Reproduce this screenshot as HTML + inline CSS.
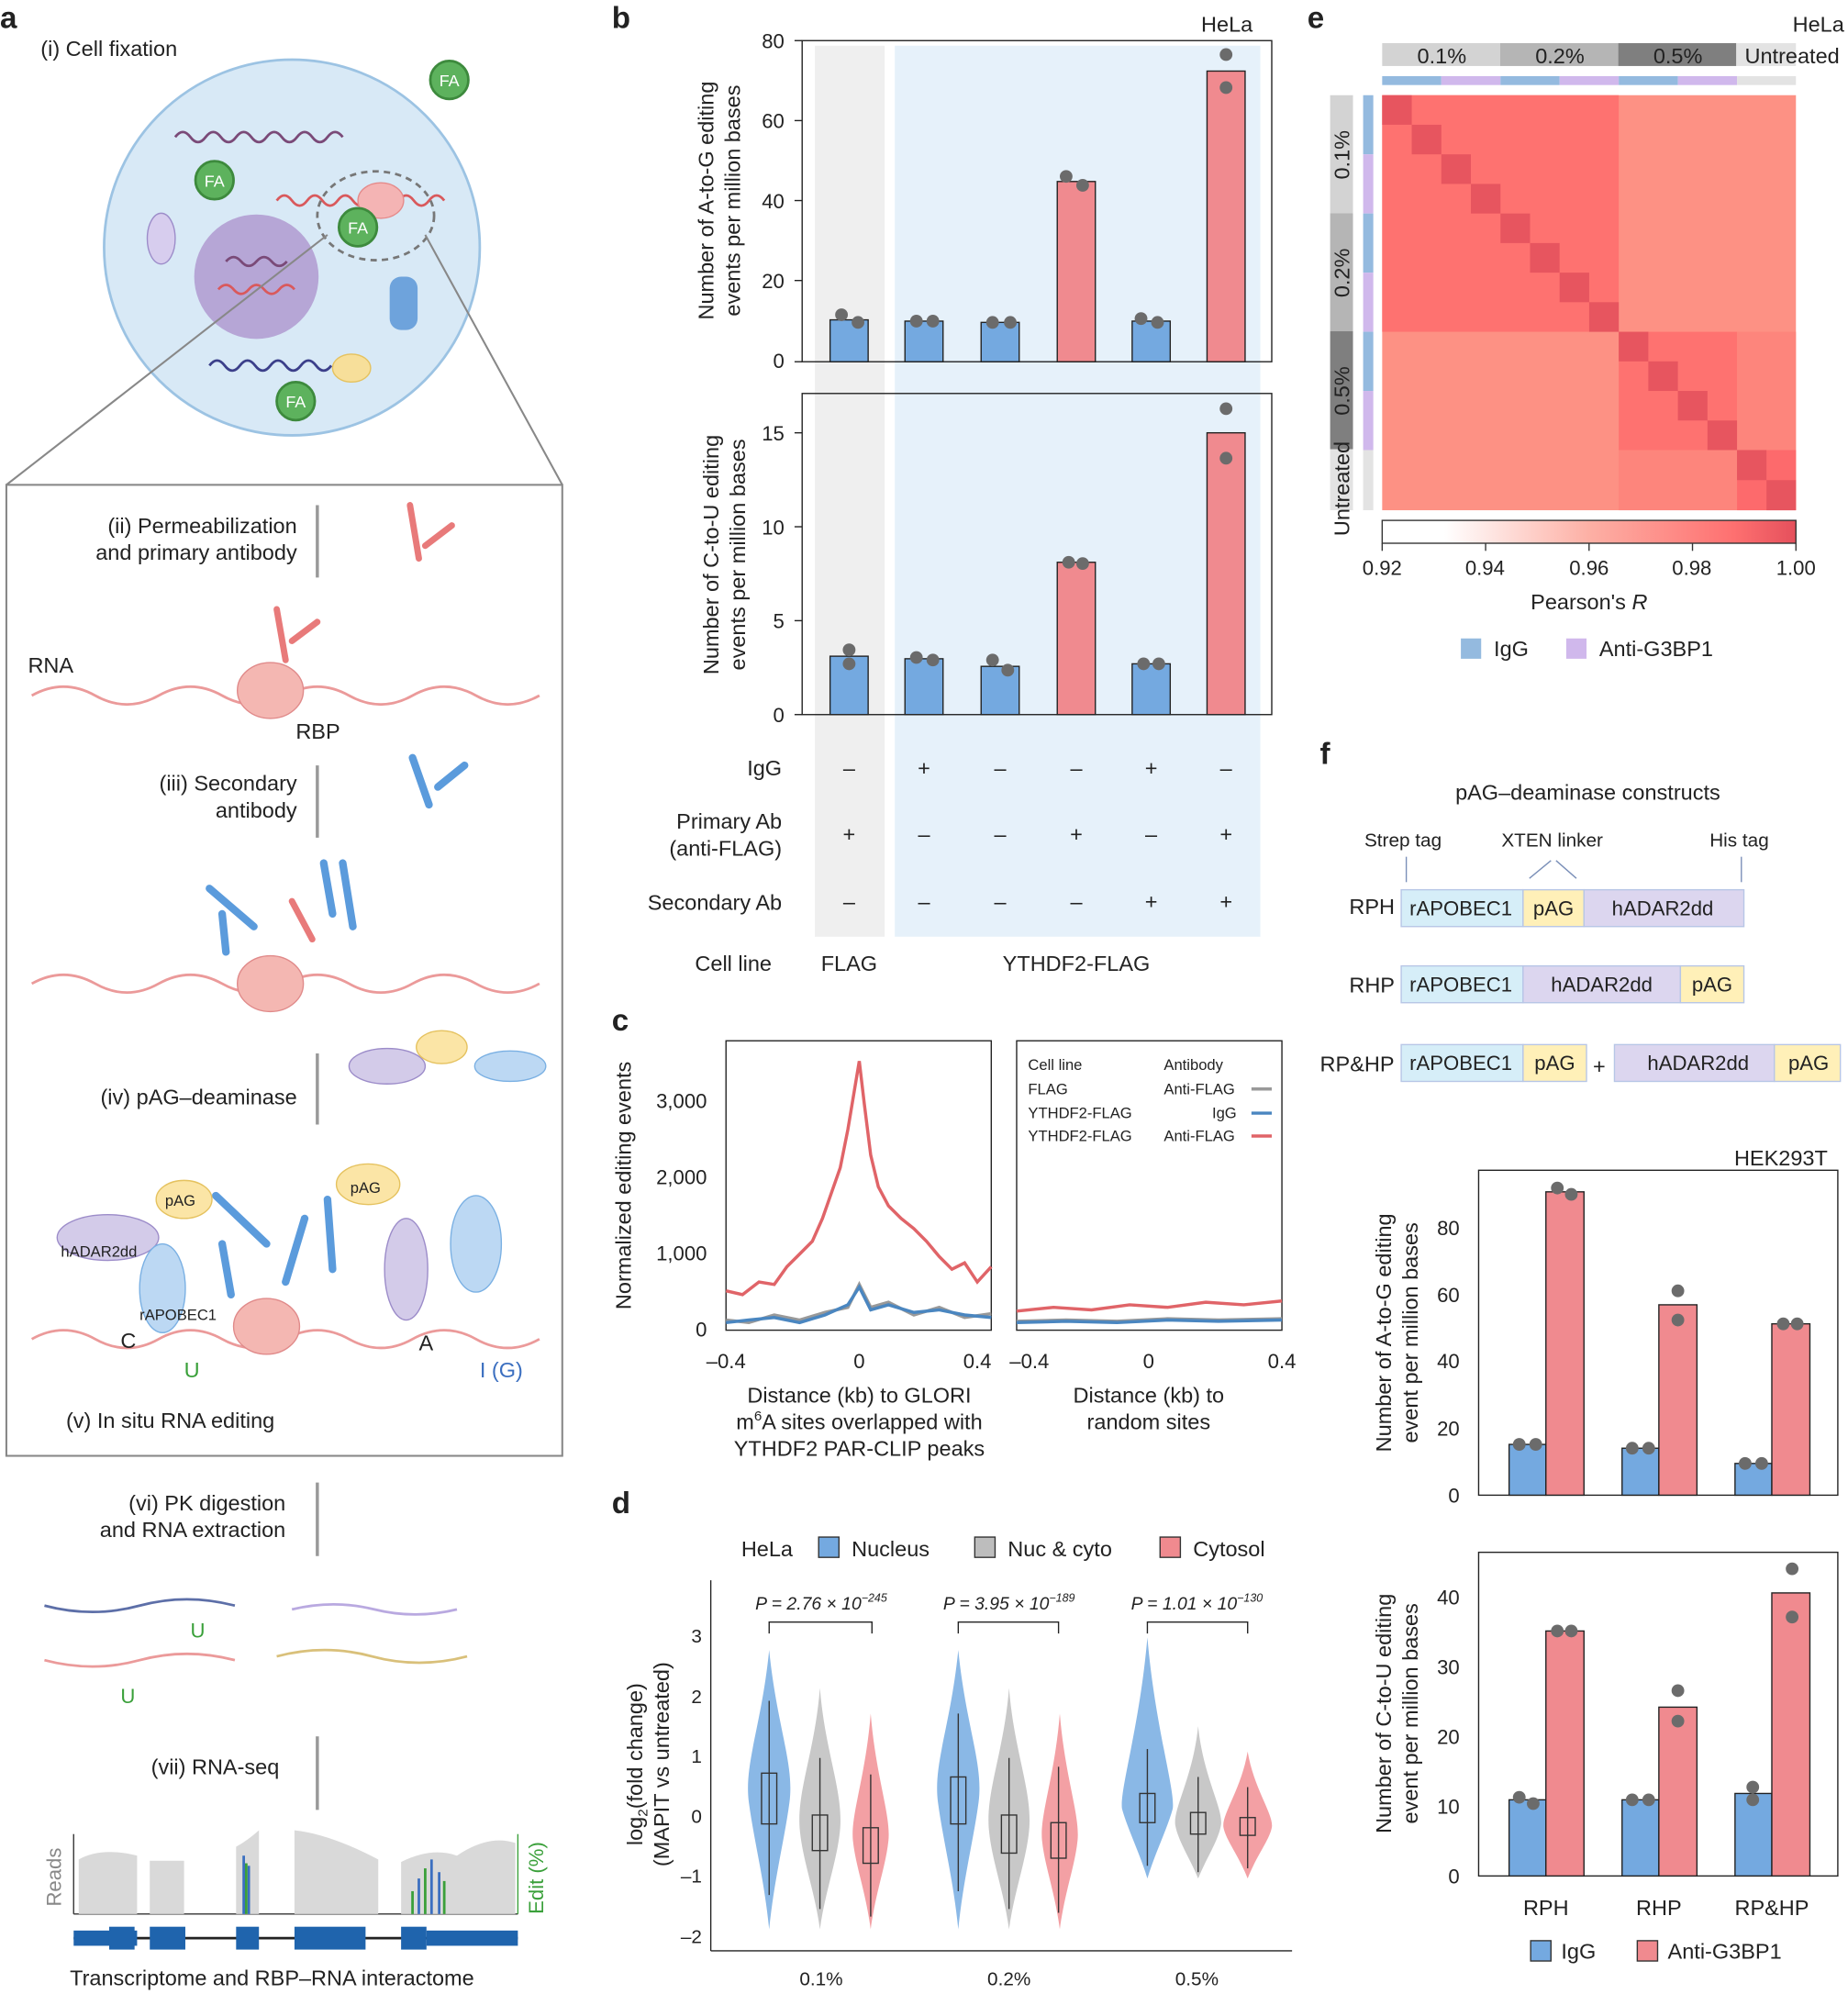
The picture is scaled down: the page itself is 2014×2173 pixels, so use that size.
<!DOCTYPE html>
<html><head><meta charset="utf-8"><style>
html,body{margin:0;padding:0;background:#fff}
svg{display:block}
text{font-family:"Liberation Sans",sans-serif;fill:#222}
</style></head><body>
<svg width="2014" height="2173" viewBox="0 0 1456 1571" xmlns="http://www.w3.org/2000/svg">
<defs>
<linearGradient id="cb" x1="0" x2="1"><stop offset="0" stop-color="#fff"/><stop offset="0.15" stop-color="#fff"/><stop offset="0.5" stop-color="#fdb0a5"/><stop offset="0.85" stop-color="#fe7070"/><stop offset="1" stop-color="#e5505c"/></linearGradient>
</defs>
<!-- panel letters -->
<g font-weight="bold" font-size="24"><text x="0" y="22">a</text><text x="482" y="22">b</text><text x="482" y="812">c</text><text x="482" y="1192">d</text><text x="1030" y="22">e</text><text x="1040" y="602">f</text></g>

<!-- ===== Panel a ===== -->
<text x="32" y="44" font-size="17">(i) Cell fixation</text>
<circle cx="230" cy="195" r="148" fill="#d8e9f6" stroke="#9cc3e3" stroke-width="2"/>
<circle cx="202" cy="218" r="49" fill="#b6a6d6"/>
<path d="M138 108 q6 -8 12 0 t12 0 t12 0 t12 0 t12 0 t12 0 t12 0 t12 0 t12 0 t12 0 t12 0" fill="none" stroke="#7a4a78" stroke-width="2"/>
<path d="M218 158 q6 -8 12 0 t12 0 t12 0 t12 0 t12 0 t12 0 t12 0 t12 0 t12 0 t12 0 t12 0" fill="none" stroke="#d9595c" stroke-width="2"/>
<path d="M165 288 q6 -8 12 0 t12 0 t12 0 t12 0 t12 0 t12 0 t12 0 t12 0" fill="none" stroke="#3b3f8a" stroke-width="2"/>
<path d="M178 206 q6 -7 12 0 t12 0 t12 0 t12 0" fill="none" stroke="#7a4a78" stroke-width="2"/>
<path d="M172 228 q6 -7 12 0 t12 0 t12 0 t12 0 t12 0" fill="none" stroke="#d9595c" stroke-width="2"/>
<ellipse cx="300" cy="158" rx="18" ry="14" fill="#f4b4b4" stroke="#e58a8a"/>
<ellipse cx="127" cy="188" rx="11" ry="20" fill="#d7cdee" stroke="#9c8cc9"/>
<rect x="307" y="218" width="22" height="42" rx="9" fill="#6ea3dc"/>
<ellipse cx="277" cy="290" rx="15" ry="11" fill="#f7df9a" stroke="#e5c25f"/>
<ellipse cx="296" cy="170" rx="46" ry="35" fill="none" stroke="#777" stroke-width="2" stroke-dasharray="5,4"/>
<g fill="#5db25d" stroke="#3d8a3d" stroke-width="2"><circle cx="354" cy="63" r="15"/><circle cx="169" cy="142" r="15"/><circle cx="282" cy="179" r="15"/><circle cx="233" cy="316" r="15"/></g>
<g fill="#fff" font-size="13" text-anchor="middle"><text x="354" y="68" style="fill:#fff">FA</text><text x="169" y="147" style="fill:#fff">FA</text><text x="282" y="184" style="fill:#fff">FA</text><text x="233" y="321" style="fill:#fff">FA</text></g>
<line x1="258" y1="185" x2="5" y2="382" stroke="#888" stroke-width="1.5"/>
<line x1="335" y1="185" x2="443" y2="382" stroke="#888" stroke-width="1.5"/>
<rect x="5" y="382" width="438" height="765" fill="none" stroke="#888" stroke-width="1.5"/>
<g font-size="17" text-anchor="end">
<text x="234" y="420">(ii) Permeabilization</text><text x="234" y="441">and primary antibody</text>
<text x="234" y="623">(iii) Secondary</text><text x="234" y="644">antibody</text>
<text x="234" y="870">(iv) pAG–deaminase</text>
</g>
<text x="22" y="530" font-size="17">RNA</text><text x="233" y="582" font-size="17">RBP</text>
<g stroke="#999" stroke-width="2.5"><line x1="250" y1="398" x2="250" y2="455"/><line x1="250" y1="603" x2="250" y2="660"/><line x1="250" y1="830" x2="250" y2="886"/><line x1="250" y1="1168" x2="250" y2="1226"/><line x1="250" y1="1368" x2="250" y2="1426"/></g>
<g fill="none" stroke="#eb9a9a" stroke-width="2">
<path d="M25 548 q25 -14 50 0 t50 0 t50 0 t50 0 t50 0 t50 0 t50 0 t50 0"/>
<path d="M25 775 q25 -14 50 0 t50 0 t50 0 t50 0 t50 0 t50 0 t50 0 t50 0"/>
<path d="M25 1055 q25 -14 50 0 t50 0 t50 0 t50 0 t50 0 t50 0 t50 0 t50 0"/>
</g>
<g fill="#f4b7b2" stroke="#e08a8a"><ellipse cx="213" cy="544" rx="26" ry="22"/><ellipse cx="213" cy="775" rx="26" ry="22"/><ellipse cx="210" cy="1045" rx="26" ry="22"/></g>
<g stroke="#e87a7a" stroke-width="5" stroke-linecap="round"><line x1="323" y1="398" x2="330" y2="440"/><line x1="335" y1="430" x2="356" y2="414"/><line x1="218" y1="480" x2="225" y2="520"/><line x1="230" y1="505" x2="250" y2="490"/><line x1="230" y1="710" x2="246" y2="740"/></g>
<g stroke="#5b9bdc" stroke-width="6" stroke-linecap="round"><line x1="325" y1="597" x2="338" y2="634"/><line x1="345" y1="620" x2="366" y2="603"/><line x1="165" y1="700" x2="200" y2="730"/><line x1="175" y1="720" x2="178" y2="750"/><line x1="255" y1="680" x2="262" y2="720"/><line x1="270" y1="680" x2="278" y2="730"/><line x1="170" y1="942" x2="210" y2="980"/><line x1="175" y1="980" x2="182" y2="1020"/><line x1="258" y1="945" x2="262" y2="1000"/><line x1="240" y1="960" x2="225" y2="1010"/></g>
<ellipse cx="305" cy="840" rx="30" ry="14" fill="#d3cbe9" stroke="#9c8cc9"/><ellipse cx="348" cy="825" rx="20" ry="13" fill="#fbe5a6" stroke="#e5c25f"/><ellipse cx="402" cy="840" rx="28" ry="12" fill="#bcd8f3" stroke="#7ab0e3"/>
<ellipse cx="85" cy="975" rx="40" ry="18" fill="#d3cbe9" stroke="#9c8cc9"/><ellipse cx="145" cy="945" rx="22" ry="15" fill="#fbe5a6" stroke="#e5c25f"/><ellipse cx="128" cy="1015" rx="18" ry="35" fill="#bcd8f3" stroke="#7ab0e3"/>
<ellipse cx="290" cy="933" rx="25" ry="16" fill="#fbe5a6" stroke="#e5c25f"/><ellipse cx="320" cy="1000" rx="17" ry="40" fill="#d3cbe9" stroke="#9c8cc9"/><ellipse cx="375" cy="980" rx="20" ry="38" fill="#bcd8f3" stroke="#7ab0e3"/>
<g font-size="12"><text x="48" y="990">hADAR2dd</text><text x="130" y="950">pAG</text><text x="276" y="940">pAG</text><text x="110" y="1040">rAPOBEC1</text></g>
<text x="95" y="1062" font-size="17">C</text><text x="145" y="1085" font-size="17" style="fill:#3aa03a">U</text><text x="330" y="1064" font-size="17">A</text><text x="378" y="1085" font-size="17" style="fill:#3b6fc0">I (G)</text>
<text x="52" y="1125" font-size="17">(v) In situ RNA editing</text>
<text x="225" y="1190" font-size="17" text-anchor="end">(vi) PK digestion</text><text x="225" y="1211" font-size="17" text-anchor="end">and RNA extraction</text>
<g fill="none" stroke-width="2"><path d="M35 1265 q38 10 75 0 t75 0" stroke="#5d6fa8"/><path d="M35 1308 q38 10 75 0 t75 0" stroke="#eb9a9a"/><path d="M230 1268 q33 -8 65 0 t65 0" stroke="#b9a9e0"/><path d="M218 1305 q38 -10 75 0 t75 0" stroke="#d9c07a"/></g>
<text x="150" y="1290" font-size="16" style="fill:#3aa03a">U</text><text x="95" y="1342" font-size="16" style="fill:#3aa03a">U</text>
<text x="220" y="1398" font-size="17" text-anchor="end">(vii) RNA-seq</text>
<line x1="58" y1="1445" x2="58" y2="1508" stroke="#333"/><line x1="58" y1="1508" x2="408" y2="1508" stroke="#333"/><line x1="408" y1="1445" x2="408" y2="1508" stroke="#3aa03a"/>
<g fill="#d9d9d9"><path d="M62 1508 V1465 Q80 1455 108 1462 V1508Z"/><path d="M118 1508 V1466 H145 V1508Z"/><path d="M186 1508 V1455 Q195 1450 204 1442 V1508Z"/><path d="M232 1508 V1442 Q260 1445 298 1465 V1508Z"/><path d="M316 1508 V1467 Q340 1455 360 1462 Q385 1445 406 1452 V1508Z"/></g>
<g stroke="#3b6fc0" stroke-width="2"><line x1="192" y1="1508" x2="192" y2="1462"/><line x1="196" y1="1508" x2="196" y2="1470"/><line x1="330" y1="1508" x2="330" y2="1480"/><line x1="340" y1="1508" x2="340" y2="1465"/><line x1="346" y1="1508" x2="346" y2="1475"/></g>
<g stroke="#3aa03a" stroke-width="2"><line x1="194" y1="1508" x2="194" y2="1468"/><line x1="325" y1="1508" x2="325" y2="1490"/><line x1="335" y1="1508" x2="335" y2="1472"/><line x1="350" y1="1508" x2="350" y2="1482"/></g>
<text transform="translate(48,1502) rotate(-90)" font-size="16" style="fill:#888">Reads</text>
<text transform="translate(428,1508) rotate(-90)" font-size="16" style="fill:#3aa03a">Edit (%)</text>
<line x1="58" y1="1527" x2="408" y2="1527" stroke="#222" stroke-width="2"/>
<g fill="#1f64ad"><rect x="58" y="1521" width="50" height="12"/><rect x="86" y="1518" width="20" height="18"/><rect x="118" y="1518" width="28" height="18"/><rect x="186" y="1518" width="18" height="18"/><rect x="232" y="1518" width="56" height="18"/><rect x="316" y="1518" width="20" height="18"/><rect x="336" y="1521" width="72" height="12"/></g>
<text x="55" y="1564" font-size="17">Transcriptome and RBP–RNA interactome</text>

<!-- ===== Panel b ===== -->
<rect x="642" y="36" width="55" height="702" fill="#efefef"/>
<rect x="705" y="36" width="288" height="702" fill="#e6f1fa"/>
<rect x="632" y="32" width="370" height="253" fill="none" stroke="#222"/>
<rect x="632" y="310" width="370" height="253" fill="none" stroke="#222"/>
<text x="987" y="25" font-size="17" text-anchor="end">HeLa</text>
<g font-size="16" text-anchor="end"><text x="618" y="38">80</text><text x="618" y="101">60</text><text x="618" y="164">40</text><text x="618" y="227">20</text><text x="618" y="290">0</text>
<text x="618" y="347">15</text><text x="618" y="421">10</text><text x="618" y="495">5</text><text x="618" y="569">0</text></g>
<g stroke="#222"><line x1="626" y1="32" x2="632" y2="32"/><line x1="626" y1="95" x2="632" y2="95"/><line x1="626" y1="158" x2="632" y2="158"/><line x1="626" y1="221" x2="632" y2="221"/><line x1="626" y1="285" x2="632" y2="285"/><line x1="626" y1="341" x2="632" y2="341"/><line x1="626" y1="415" x2="632" y2="415"/><line x1="626" y1="489" x2="632" y2="489"/><line x1="626" y1="563" x2="632" y2="563"/></g>
<text transform="translate(562,158) rotate(-90)" font-size="17" text-anchor="middle">Number of A-to-G editing</text>
<text transform="translate(583,158) rotate(-90)" font-size="17" text-anchor="middle">events per million bases</text>
<text transform="translate(566,437) rotate(-90)" font-size="17" text-anchor="middle">Number of C-to-U editing</text>
<text transform="translate(587,437) rotate(-90)" font-size="17" text-anchor="middle">events per million bases</text>
<g stroke="#222" stroke-width="1">
<rect x="654" y="252" width="30" height="33" fill="#74a9e0"/><rect x="713" y="253" width="30" height="32" fill="#74a9e0"/><rect x="773" y="254" width="30" height="31" fill="#74a9e0"/><rect x="833" y="143" width="30" height="142" fill="#f08a8f"/><rect x="892" y="253" width="30" height="32" fill="#74a9e0"/><rect x="951" y="56" width="30" height="229" fill="#f08a8f"/>
<rect x="654" y="517" width="30" height="46" fill="#74a9e0"/><rect x="713" y="519" width="30" height="44" fill="#74a9e0"/><rect x="773" y="525" width="30" height="38" fill="#74a9e0"/><rect x="833" y="443" width="30" height="120" fill="#f08a8f"/><rect x="892" y="523" width="30" height="40" fill="#74a9e0"/><rect x="951" y="341" width="30" height="222" fill="#f08a8f"/>
</g>
<g fill="#6b6b6b"><circle cx="663" cy="248" r="5"/><circle cx="676" cy="254" r="5"/><circle cx="722" cy="253" r="5"/><circle cx="735" cy="253" r="5"/><circle cx="782" cy="254" r="5"/><circle cx="796" cy="254" r="5"/><circle cx="840" cy="139" r="5"/><circle cx="853" cy="146" r="5"/><circle cx="899" cy="251" r="5"/><circle cx="912" cy="254" r="5"/><circle cx="966" cy="43" r="5"/><circle cx="966" cy="69" r="5"/>
<circle cx="669" cy="512" r="5"/><circle cx="669" cy="523" r="5"/><circle cx="722" cy="518" r="5"/><circle cx="735" cy="520" r="5"/><circle cx="782" cy="520" r="5"/><circle cx="794" cy="528" r="5"/><circle cx="842" cy="443" r="5"/><circle cx="853" cy="444" r="5"/><circle cx="901" cy="523" r="5"/><circle cx="913" cy="523" r="5"/><circle cx="966" cy="322" r="5"/><circle cx="966" cy="361" r="5"/></g>
<g font-size="17" text-anchor="end"><text x="616" y="611">IgG</text><text x="616" y="653">Primary Ab</text><text x="616" y="674">(anti-FLAG)</text><text x="616" y="717">Secondary Ab</text><text x="608" y="765">Cell line</text></g>
<g font-size="17" text-anchor="middle"><text x="669" y="611">–</text><text x="728" y="611">+</text><text x="788" y="611">–</text><text x="848" y="611">–</text><text x="907" y="611">+</text><text x="966" y="611">–</text>
<text x="669" y="663">+</text><text x="728" y="663">–</text><text x="788" y="663">–</text><text x="848" y="663">+</text><text x="907" y="663">–</text><text x="966" y="663">+</text>
<text x="669" y="716">–</text><text x="728" y="716">–</text><text x="788" y="716">–</text><text x="848" y="716">–</text><text x="907" y="716">+</text><text x="966" y="716">+</text>
<text x="669" y="765">FLAG</text><text x="848" y="765">YTHDF2-FLAG</text></g>

<!-- ===== Panel c ===== -->
<rect x="572" y="820" width="209" height="228" fill="none" stroke="#222"/>
<rect x="801" y="820" width="209" height="228" fill="none" stroke="#222"/>
<g font-size="16" text-anchor="end"><text x="557" y="873">3,000</text><text x="557" y="933">2,000</text><text x="557" y="993">1,000</text><text x="557" y="1053">0</text></g>
<text transform="translate(497,934) rotate(-90)" font-size="17" text-anchor="middle">Normalized editing events</text>
<g font-size="16" text-anchor="middle"><text x="572" y="1078">–0.4</text><text x="677" y="1078">0</text><text x="770" y="1078">0.4</text><text x="811" y="1078">–0.4</text><text x="905" y="1078">0</text><text x="1010" y="1078">0.4</text></g>
<g font-size="17" text-anchor="middle"><text x="677" y="1105">Distance (kb) to GLORI</text><text x="677" y="1126">m<tspan font-size="11" dy="-7">6</tspan><tspan dy="7">A sites overlapped with</tspan></text><text x="677" y="1147">YTHDF2 PAR-CLIP peaks</text><text x="905" y="1105">Distance (kb) to</text><text x="905" y="1126">random sites</text></g>
<path d="M572 1017 L585 1020 L598 1010 L610 1012 L620 998 L630 988 L640 978 L648 960 L655 940 L662 920 L668 890 L673 860 L677 836 L681 870 L686 910 L692 935 L700 950 L710 960 L720 968 L730 978 L740 990 L750 1000 L760 995 L770 1010 L781 998" fill="none" stroke="#e06468" stroke-width="2.5"/>
<path d="M572 1040 L590 1042 L610 1036 L630 1040 L650 1034 L668 1030 L677 1012 L686 1030 L700 1026 L720 1036 L740 1030 L760 1038 L781 1035" fill="none" stroke="#999" stroke-width="2.5"/>
<path d="M572 1042 L590 1040 L610 1038 L630 1042 L650 1036 L668 1028 L677 1014 L686 1032 L700 1028 L720 1034 L740 1032 L760 1036 L781 1038" fill="none" stroke="#4a86c0" stroke-width="2.5"/>
<path d="M801 1033 L830 1030 L860 1032 L890 1028 L920 1030 L950 1026 L980 1028 L1010 1025" fill="none" stroke="#e06468" stroke-width="2.5"/>
<path d="M801 1041 L840 1040 L880 1041 L920 1039 L960 1040 L1010 1039" fill="none" stroke="#999" stroke-width="2.5"/>
<path d="M801 1042 L840 1041 L880 1042 L920 1040 L960 1041 L1010 1040" fill="none" stroke="#4a86c0" stroke-width="2.5"/>
<g font-size="12"><text x="810" y="843">Cell line</text><text x="917" y="843">Antibody</text><text x="810" y="862">FLAG</text><text x="917" y="862">Anti-FLAG</text><text x="810" y="881">YTHDF2-FLAG</text><text x="955" y="881">IgG</text><text x="810" y="899">YTHDF2-FLAG</text><text x="917" y="899">Anti-FLAG</text></g>
<line x1="986" y1="858" x2="1002" y2="858" stroke="#999" stroke-width="2.5"/><line x1="986" y1="877" x2="1002" y2="877" stroke="#4a86c0" stroke-width="2.5"/><line x1="986" y1="895" x2="1002" y2="895" stroke="#e06468" stroke-width="2.5"/>

<!-- ===== Panel d ===== -->
<text x="584" y="1226" font-size="17">HeLa</text>
<rect x="645" y="1211" width="16" height="16" fill="#74a9e0" stroke="#333"/><text x="671" y="1226" font-size="17">Nucleus</text>
<rect x="768" y="1211" width="16" height="16" fill="#bdbdbd" stroke="#333"/><text x="794" y="1226" font-size="17">Nuc &amp; cyto</text>
<rect x="914" y="1211" width="16" height="16" fill="#f08a8f" stroke="#333"/><text x="940" y="1226" font-size="17">Cytosol</text>
<line x1="560" y1="1245" x2="560" y2="1537" stroke="#222"/><line x1="560" y1="1537" x2="1018" y2="1537" stroke="#222"/>
<g font-size="15" text-anchor="end"><text x="553" y="1294">3</text><text x="553" y="1342">2</text><text x="553" y="1389">1</text><text x="553" y="1436">0</text><text x="553" y="1483">–1</text><text x="553" y="1531">–2</text></g>
<text transform="translate(506,1390) rotate(-90)" font-size="17" text-anchor="middle">log<tspan font-size="11" dy="4">2</tspan><tspan dy="-4">(fold change)</tspan></text>
<text transform="translate(527,1390) rotate(-90)" font-size="17" text-anchor="middle">(MAPIT vs untreated)</text>
<g font-size="15" text-anchor="middle"><text x="647" y="1564">0.1%</text><text x="795" y="1564">0.2%</text><text x="943" y="1564">0.5%</text></g>
<g font-size="14" font-style="italic" text-anchor="middle"><text x="647" y="1268">P = 2.76 × 10<tspan font-size="9" dy="-6">−245</tspan></text><text x="795" y="1268">P = 3.95 × 10<tspan font-size="9" dy="-6">−189</tspan></text><text x="943" y="1268">P = 1.01 × 10<tspan font-size="9" dy="-6">−130</tspan></text></g>
<g fill="none" stroke="#222"><path d="M606 1287 V1278 H687 V1287"/><path d="M755 1287 V1278 H834 V1287"/><path d="M904 1287 V1278 H983 V1287"/></g>
<g id="vio">
<path d="M606 1300 C612 1360 626 1390 622 1420 C618 1450 610 1480 606 1520 C602 1480 594 1450 590 1420 C586 1390 600 1360 606 1300Z" fill="#8ab8e6"/>
<path d="M646 1330 C650 1380 664 1410 662 1440 C660 1465 650 1490 646 1520 C642 1490 632 1465 630 1440 C628 1410 642 1380 646 1330Z" fill="#c8c8c8"/>
<path d="M686 1350 C690 1400 702 1430 700 1450 C698 1470 690 1490 686 1520 C682 1490 674 1470 672 1450 C670 1430 682 1400 686 1350Z" fill="#f3a0a4"/>
</g>
<use href="#vio" transform="translate(149,0)"/>
<path d="M904 1290 C910 1360 926 1410 924 1425 C920 1440 910 1460 904 1480 C898 1460 888 1440 884 1425 C882 1410 898 1360 904 1290Z" fill="#8ab8e6"/>
<path d="M944 1360 C948 1400 964 1425 962 1438 C960 1450 950 1465 944 1480 C938 1465 928 1450 926 1438 C924 1425 940 1400 944 1360Z" fill="#c8c8c8"/>
<path d="M983 1380 C988 1410 1004 1430 1002 1440 C1000 1450 990 1462 983 1480 C976 1462 966 1450 964 1440 C962 1430 978 1410 983 1380Z" fill="#f3a0a4"/>
<g fill="none" stroke="#333">
<line x1="606" y1="1340" x2="606" y2="1493"/><rect x="600" y="1397" width="12" height="40"/>
<line x1="646" y1="1385" x2="646" y2="1504"/><rect x="640" y="1430" width="12" height="28"/>
<line x1="686" y1="1398" x2="686" y2="1510"/><rect x="680" y="1440" width="12" height="28"/>
<line x1="755" y1="1350" x2="755" y2="1490"/><rect x="749" y="1400" width="12" height="37"/>
<line x1="795" y1="1385" x2="795" y2="1504"/><rect x="789" y="1430" width="12" height="30"/>
<line x1="834" y1="1392" x2="834" y2="1507"/><rect x="828" y="1436" width="12" height="28"/>
<line x1="904" y1="1378" x2="904" y2="1470"/><rect x="898" y="1413" width="12" height="23"/>
<line x1="944" y1="1400" x2="944" y2="1475"/><rect x="938" y="1428" width="12" height="17"/>
<line x1="983" y1="1408" x2="983" y2="1472"/><rect x="977" y="1432" width="12" height="14"/>
</g>

<!-- ===== Panel e ===== -->
<text x="1453" y="25" font-size="17" text-anchor="end">HeLa</text>
<rect x="1089" y="34" width="93" height="18" fill="#d3d3d3"/><rect x="1182" y="34" width="93" height="18" fill="#b5b5b5"/><rect x="1275" y="34" width="93" height="18" fill="#7f7f7f"/><rect x="1368" y="34" width="47" height="18" fill="#e3e3e3"/>
<g font-size="17" text-anchor="middle"><text x="1136" y="50">0.1%</text><text x="1229" y="50">0.2%</text><text x="1322" y="50">0.5%</text><text x="1412" y="50">Untreated</text></g>
<g><rect x="1089" y="60" width="46.6" height="7" fill="#94badf"/><rect x="1135.6" y="60" width="46.6" height="7" fill="#d0b8ec"/><rect x="1182.2" y="60" width="46.6" height="7" fill="#94badf"/><rect x="1228.8" y="60" width="46.6" height="7" fill="#d0b8ec"/><rect x="1275.4" y="60" width="46.6" height="7" fill="#94badf"/><rect x="1322" y="60" width="46.6" height="7" fill="#d0b8ec"/><rect x="1368.6" y="60" width="46.4" height="7" fill="#e3e3e3"/></g>
<rect x="1048" y="75" width="18" height="93" fill="#d3d3d3"/><rect x="1048" y="168" width="18" height="93" fill="#b5b5b5"/><rect x="1048" y="261" width="18" height="93" fill="#7f7f7f"/><rect x="1048" y="354" width="18" height="48" fill="#e3e3e3"/>
<g font-size="17" text-anchor="middle"><text transform="translate(1063,122) rotate(-90)">0.1%</text><text transform="translate(1063,215) rotate(-90)">0.2%</text><text transform="translate(1063,308) rotate(-90)">0.5%</text><text transform="translate(1063,385) rotate(-90)">Untreated</text></g>
<rect x="1074" y="75" width="8" height="46.6" fill="#94badf"/><rect x="1074" y="121.6" width="8" height="46.6" fill="#d0b8ec"/><rect x="1074" y="168.2" width="8" height="46.6" fill="#94badf"/><rect x="1074" y="214.8" width="8" height="46.6" fill="#d0b8ec"/><rect x="1074" y="261.4" width="8" height="46.6" fill="#94badf"/><rect x="1074" y="308" width="8" height="46.6" fill="#d0b8ec"/><rect x="1074" y="354.6" width="8" height="47.4" fill="#e3e3e3"/>
<rect x="1089" y="75" width="326" height="327" fill="#fd9184"/>
<rect x="1089" y="75" width="186.4" height="186.4" fill="#fe7270"/>
<rect x="1275.4" y="261.4" width="93.2" height="93.2" fill="#fe7270"/>
<rect x="1275.4" y="354.6" width="139.6" height="47.4" fill="#fd857c"/><rect x="1368.6" y="261.4" width="46.4" height="93.2" fill="#fd857c"/>
<rect x="1368.6" y="354.6" width="46.4" height="47.4" fill="#fd6a6c"/>
<g fill="#e7555f"><rect x="1089" y="75" width="23.3" height="23.3"/><rect x="1112.3" y="98.3" width="23.3" height="23.3"/><rect x="1135.6" y="121.6" width="23.3" height="23.3"/><rect x="1158.9" y="144.9" width="23.3" height="23.3"/><rect x="1182.2" y="168.2" width="23.3" height="23.3"/><rect x="1205.5" y="191.5" width="23.3" height="23.3"/><rect x="1228.8" y="214.8" width="23.3" height="23.3"/><rect x="1252.1" y="238.1" width="23.3" height="23.3"/><rect x="1275.4" y="261.4" width="23.3" height="23.3"/><rect x="1298.7" y="284.7" width="23.3" height="23.3"/><rect x="1322" y="308" width="23.3" height="23.3"/><rect x="1345.3" y="331.3" width="23.3" height="23.3"/><rect x="1368.6" y="354.6" width="23.2" height="23.7"/><rect x="1391.8" y="378.3" width="23.2" height="23.7"/></g>
<rect x="1089" y="410" width="326" height="18" fill="url(#cb)" stroke="#333"/>
<g stroke="#333"><line x1="1089" y1="428" x2="1089" y2="434"/><line x1="1170.5" y1="428" x2="1170.5" y2="434"/><line x1="1252" y1="428" x2="1252" y2="434"/><line x1="1333.5" y1="428" x2="1333.5" y2="434"/><line x1="1415" y1="428" x2="1415" y2="434"/></g>
<g font-size="16" text-anchor="middle"><text x="1089" y="453">0.92</text><text x="1170" y="453">0.94</text><text x="1252" y="453">0.96</text><text x="1333" y="453">0.98</text><text x="1415" y="453">1.00</text></g>
<text x="1252" y="480" font-size="17" text-anchor="middle">Pearson's <tspan font-style="italic">R</tspan></text>
<rect x="1151" y="503" width="16" height="16" fill="#94badf"/><text x="1177" y="517" font-size="17">IgG</text>
<rect x="1234" y="503" width="16" height="16" fill="#d0b8ec"/><text x="1260" y="517" font-size="17">Anti-G3BP1</text>

<!-- ===== Panel f ===== -->
<text x="1251" y="630" font-size="17" text-anchor="middle">pAG–deaminase constructs</text>
<g font-size="15"><text x="1075" y="667">Strep tag</text><text x="1183" y="667">XTEN linker</text><text x="1347" y="667">His tag</text></g>
<g stroke="#7a8fb8"><line x1="1108" y1="675" x2="1108" y2="695"/><line x1="1222" y1="678" x2="1205" y2="692"/><line x1="1226" y1="678" x2="1242" y2="692"/><line x1="1372" y1="675" x2="1372" y2="695"/></g>
<g font-size="17"><text x="1063" y="720">RPH</text><text x="1063" y="782">RHP</text><text x="1040" y="844">RP&amp;HP</text><text x="1255" y="846">+</text></g>
<g stroke="#b7c6e6">
<rect x="1104" y="701" width="96" height="29" fill="#d6eef8"/><rect x="1200" y="701" width="48" height="29" fill="#fff0b8"/><rect x="1248" y="701" width="126" height="29" fill="#dcd6ef"/>
<rect x="1104" y="761" width="96" height="29" fill="#d6eef8"/><rect x="1200" y="761" width="124" height="29" fill="#dcd6ef"/><rect x="1324" y="761" width="50" height="29" fill="#fff0b8"/>
<rect x="1104" y="823" width="96" height="29" fill="#d6eef8"/><rect x="1200" y="823" width="50" height="29" fill="#fff0b8"/>
<rect x="1272" y="823" width="126" height="29" fill="#dcd6ef"/><rect x="1398" y="823" width="52" height="29" fill="#fff0b8"/>
</g>
<g font-size="16" text-anchor="middle"><text x="1151" y="721">rAPOBEC1</text><text x="1224" y="721">pAG</text><text x="1310" y="721">hADAR2dd</text>
<text x="1151" y="781">rAPOBEC1</text><text x="1262" y="781">hADAR2dd</text><text x="1349" y="781">pAG</text>
<text x="1151" y="843">rAPOBEC1</text><text x="1225" y="843">pAG</text><text x="1338" y="843">hADAR2dd</text><text x="1425" y="843">pAG</text></g>
<text x="1440" y="918" font-size="17" text-anchor="end">HEK293T</text>
<rect x="1165" y="922" width="283" height="256" fill="none" stroke="#222"/>
<rect x="1165" y="1223" width="283" height="255" fill="none" stroke="#222"/>
<g font-size="16" text-anchor="end"><text x="1150" y="973">80</text><text x="1150" y="1026">60</text><text x="1150" y="1078">40</text><text x="1150" y="1131">20</text><text x="1150" y="1184">0</text>
<text x="1150" y="1264">40</text><text x="1150" y="1319">30</text><text x="1150" y="1374">20</text><text x="1150" y="1429">10</text><text x="1150" y="1484">0</text></g>
<text transform="translate(1096,1050) rotate(-90)" font-size="17" text-anchor="middle">Number of A-to-G editing</text>
<text transform="translate(1117,1050) rotate(-90)" font-size="17" text-anchor="middle">event per million bases</text>
<text transform="translate(1096,1350) rotate(-90)" font-size="17" text-anchor="middle">Number of C-to-U editing</text>
<text transform="translate(1117,1350) rotate(-90)" font-size="17" text-anchor="middle">event per million bases</text>
<g stroke="#222">
<rect x="1189" y="1138" width="29" height="40" fill="#74a9e0"/><rect x="1218" y="939" width="30" height="239" fill="#f08a8f"/>
<rect x="1278" y="1141" width="29" height="37" fill="#74a9e0"/><rect x="1307" y="1028" width="30" height="150" fill="#f08a8f"/>
<rect x="1367" y="1153" width="29" height="25" fill="#74a9e0"/><rect x="1396" y="1043" width="30" height="135" fill="#f08a8f"/>
<rect x="1189" y="1418" width="29" height="60" fill="#74a9e0"/><rect x="1218" y="1285" width="30" height="193" fill="#f08a8f"/>
<rect x="1278" y="1418" width="29" height="60" fill="#74a9e0"/><rect x="1307" y="1345" width="30" height="133" fill="#f08a8f"/>
<rect x="1367" y="1413" width="29" height="65" fill="#74a9e0"/><rect x="1396" y="1255" width="30" height="223" fill="#f08a8f"/>
</g>
<g fill="#6b6b6b"><circle cx="1197" cy="1138" r="5"/><circle cx="1210" cy="1138" r="5"/><circle cx="1227" cy="936" r="5"/><circle cx="1238" cy="941" r="5"/><circle cx="1286" cy="1141" r="5"/><circle cx="1299" cy="1141" r="5"/><circle cx="1322" cy="1017" r="5"/><circle cx="1322" cy="1040" r="5"/><circle cx="1375" cy="1153" r="5"/><circle cx="1388" cy="1153" r="5"/><circle cx="1405" cy="1043" r="5"/><circle cx="1416" cy="1043" r="5"/>
<circle cx="1197" cy="1416" r="5"/><circle cx="1208" cy="1421" r="5"/><circle cx="1227" cy="1285" r="5"/><circle cx="1238" cy="1285" r="5"/><circle cx="1286" cy="1418" r="5"/><circle cx="1299" cy="1418" r="5"/><circle cx="1322" cy="1332" r="5"/><circle cx="1322" cy="1356" r="5"/><circle cx="1381" cy="1408" r="5"/><circle cx="1381" cy="1418" r="5"/><circle cx="1412" cy="1236" r="5"/><circle cx="1412" cy="1274" r="5"/></g>
<g font-size="17" text-anchor="middle"><text x="1218" y="1509">RPH</text><text x="1307" y="1509">RHP</text><text x="1396" y="1509">RP&amp;HP</text></g>
<rect x="1206" y="1529" width="16" height="16" fill="#74a9e0" stroke="#333"/><text x="1230" y="1543" font-size="17">IgG</text>
<rect x="1290" y="1529" width="16" height="16" fill="#f08a8f" stroke="#333"/><text x="1314" y="1543" font-size="17">Anti-G3BP1</text>
</svg>
</body></html>
